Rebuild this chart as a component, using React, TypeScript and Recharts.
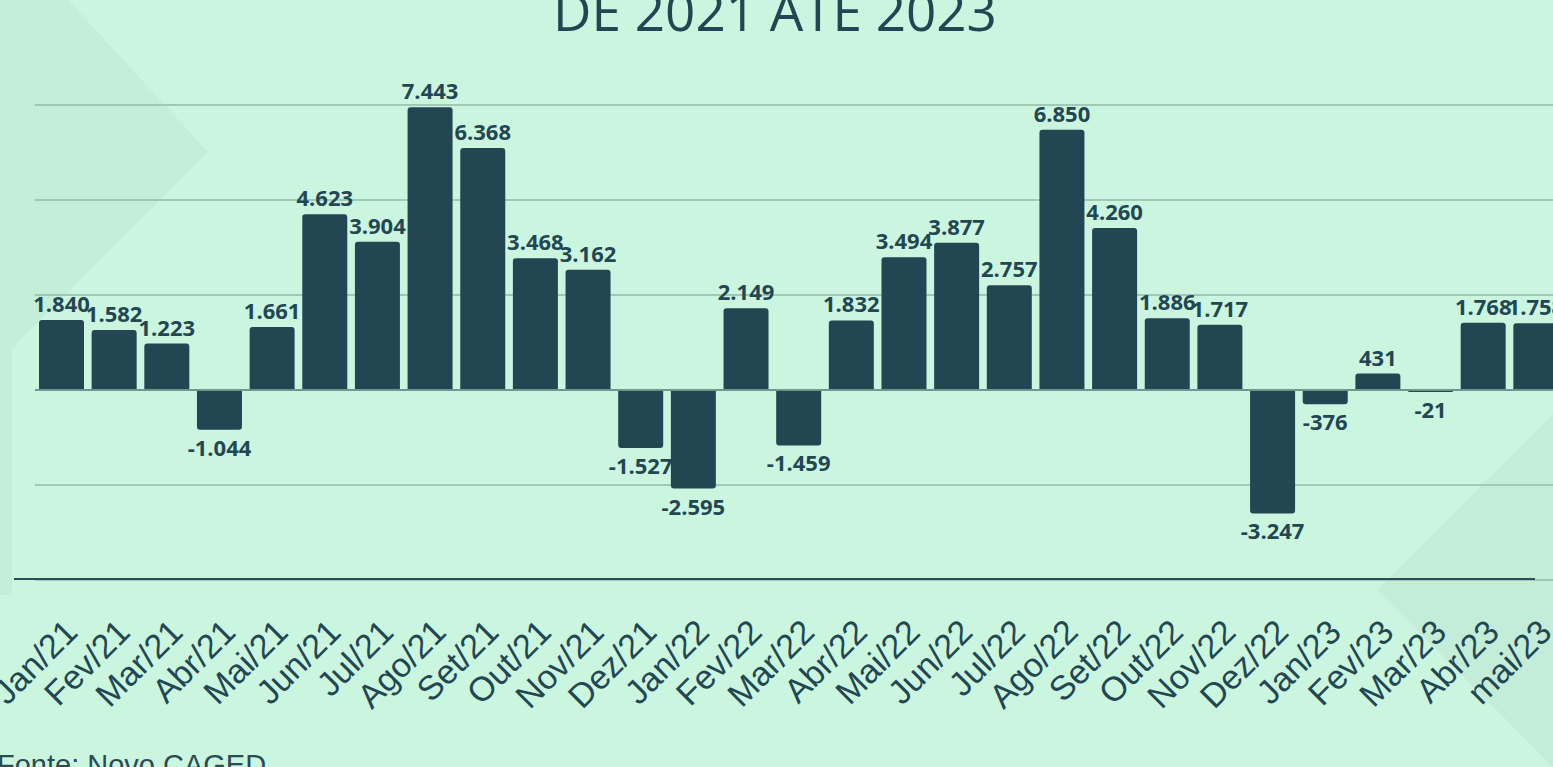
import React from "react";
import { BarChart, Bar, XAxis, YAxis, CartesianGrid, ReferenceLine, LabelList } from "recharts";

const months = [
  "Jan/21", "Fev/21", "Mar/21", "Abr/21", "Mai/21", "Jun/21", "Jul/21", "Ago/21", "Set/21", "Out/21",
  "Nov/21", "Dez/21", "Jan/22", "Fev/22", "Mar/22", "Abr/22", "Mai/22", "Jun/22", "Jul/22", "Ago/22",
  "Set/22", "Out/22", "Nov/22", "Dez/22", "Jan/23", "Fev/23", "Mar/23", "Abr/23", "mai/23",
];
const saldo = [
  1840, 1582, 1223, -1044, 1661, 4623, 3904, 7443, 6368, 3468,
  3162, -1527, -2595, 2149, -1459, 1832, 3494, 3877, 2757, 6850,
  4260, 1886, 1717, -3247, -376, 431, -21, 1768, 1758,
];
const yTicks = [-5000, -2500, 0, 2500, 5000, 7500];
const title = "DE 2021 ATÉ 2023";
const source = "Fonte: Novo CAGED";

const data = months.map((m, i) => ({ name: m, value: saldo[i] }));

const DARK = "#234653";
const BG = "#caf5df";

const fmt = (v: number) => {
  const s = Math.abs(v).toString().replace(/\B(?=(\d{3})+(?!\d))/g, ".");
  return (v < 0 ? "-" : "") + s;
};

const ValueLabel = (props: any) => {
  const { x, y, width, height, value } = props;
  const cx = x + width / 2;
  const neg = value < 0;
  const top = Math.min(y, y + height);
  const bottom = Math.max(y, y + height);
  const ty = neg ? bottom + 26 : top - 8;
  return (
    <text x={cx} y={ty} textAnchor="middle" fill={DARK} fontFamily="'Open Sans', sans-serif" fontWeight={700} fontSize={22}>
      {fmt(value)}
    </text>
  );
};

const Tick = (props: any) => {
  const { x, payload } = props;
  return (
    <g transform={`translate(${x + 18}, 634) rotate(-45)`}>
      <text x={0} y={0} textAnchor="end" fill={DARK} fontFamily="'Liberation Sans', Arial, sans-serif" fontSize={34}>
        {payload.value}
      </text>
    </g>
  );
};

export default function App() {
  return (
    <div style={{ position: "fixed", left: 0, top: 0, width: 1553, height: 767, overflow: "hidden", background: BG }}>
      <svg width={1553} height={767} style={{ position: "absolute", left: 0, top: 0 }}>
        <rect x={0} y={0} width={12} height={595} fill="#c4eed9" />
        <polygon points="12,0 68,0 208,152 12,348" fill="#c4eed9" />
        <polygon points="1377,590 1553,414 1553,767" fill="#c3edd8" />
        <text x={775} y={31} textAnchor="middle" fill={DARK} fontFamily="'Open Sans', sans-serif" fontSize={53}>
          {title}
        </text>
        <text x={-3} y={775} fill="#2e4a52" fontFamily="'Liberation Sans', Arial, sans-serif" fontSize={29}>
          {source}
        </text>
      </svg>
      <div style={{ position: "absolute", left: 0, top: 0 }}>
        <BarChart width={1570} height={767} data={data} margin={{ top: 105, right: 8, left: 35, bottom: 127 }}>
          <CartesianGrid vertical={false} stroke="#9fc8b5" strokeWidth={2} />
          <XAxis dataKey="name" interval={0} axisLine={false} tickLine={false} height={60} tick={<Tick />} />
          <YAxis hide width={0} domain={[-5000, 7500]} ticks={yTicks} />
          <ReferenceLine y={0} stroke="#6f978d" strokeWidth={2} />
          <Bar dataKey="value" fill={DARK} barSize={45} radius={[3, 3, 0, 0]} minPointSize={2} isAnimationActive={false}>
            <LabelList dataKey="value" content={<ValueLabel />} />
          </Bar>
        </BarChart>
      </div>
      <svg width={1553} height={767} style={{ position: "absolute", left: 0, top: 0, pointerEvents: "none" }}>
        <line x1={14} y1={579} x2={1535} y2={579} stroke="#2d4e59" strokeWidth={2} />
      </svg>
    </div>
  );
}
